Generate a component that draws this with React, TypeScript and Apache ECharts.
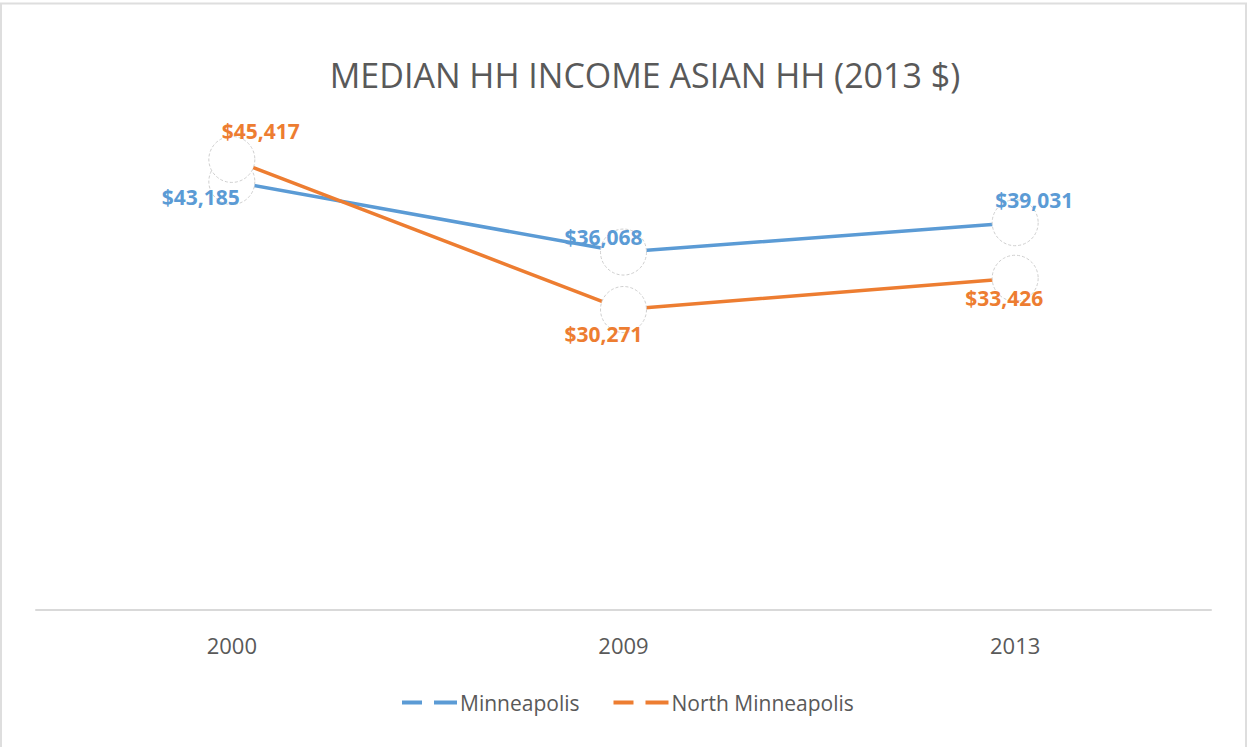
import React, { useEffect, useRef } from "react";
import * as echarts from "echarts";

const TITLE = "MEDIAN HH INCOME ASIAN HH (2013 $)";
const years = ["2000", "2009", "2013"];
const minneapolis = [43185, 36068, 39031];
const northMinneapolis = [45417, 30271, 33426];
const seriesNames = ["Minneapolis", "North Minneapolis"];
const blueOffsets = [[-31, 15], [-20, -15], [19, -23]];
const orangeOffsets = [[29, -28], [-20, 24], [-11, 20]];

const BLUE = "#5B9BD5";
const ORANGE = "#ED7D31";
const FONT = "'Open Sans', 'Liberation Sans', sans-serif";

const fmt = (v: number) => "$" + v.toLocaleString("en-US");

function buildSeries(name: string, values: number[], offsets: number[][], color: string) {
  return {
    name,
    type: "line",
    data: values.map((v, i) => ({
      value: v,
      label: { offset: offsets[i] },
    })),
    lineStyle: { color, width: 3.5 },
    itemStyle: { color: "#ffffff", borderColor: "#cfcfcf", borderWidth: 1, borderType: [3, 2] },
    symbol: "circle",
    symbolSize: 46,
    showSymbol: true,
    label: {
      show: true,
      position: "inside",
      color,
      fontFamily: FONT,
      fontWeight: "bold",
      fontSize: 21,
      formatter: (p: any) => fmt(p.value),
    },
    emphasis: { disabled: true },
  };
}

export default function App() {
  const ref = useRef<HTMLDivElement>(null);
  useEffect(() => {
    const chart = echarts.init(ref.current!, null, { renderer: "svg" });
    const legendIcon = "path://M0,0 h20 v4 h-20 z M32,0 h23 v4 h-23 z";
    chart.setOption({
      animation: false,
      backgroundColor: "#ffffff",
      textStyle: { fontFamily: FONT },
      graphic: [
        {
          type: "rect",
          shape: { x: 1, y: 3.5, width: 1245, height: 800 },
          style: { fill: "none", stroke: "#dedede", lineWidth: 2 },
          silent: true,
        },
        {
          type: "text",
          x: 645,
          y: 75,
          style: {
            text: TITLE,
            fill: "#595959",
            font: `34px ${FONT}`,
            textAlign: "center",
            textVerticalAlign: "middle",
          },
          silent: true,
        },
      ],
      grid: { left: 36, right: 36, top: 114, bottom: 137.5 },
      legend: {
        left: 402,
        top: 692,
        padding: 0,
        itemWidth: 55,
        itemHeight: 4,
        itemGap: 34,
        textStyle: { fontFamily: FONT, fontSize: 21, color: "#595959", padding: [0, 0, 0, -2] },
        data: [
          { name: seriesNames[0], icon: legendIcon, itemStyle: { color: BLUE, borderWidth: 0 } },
          { name: seriesNames[1], icon: legendIcon, itemStyle: { color: ORANGE, borderWidth: 0 } },
        ],
      },
      xAxis: {
        type: "category",
        data: years,
        boundaryGap: true,
        axisLine: { show: true, lineStyle: { color: "#d9d9d9", width: 2 } },
        axisTick: { show: false },
        axisLabel: { color: "#595959", fontSize: 22, fontFamily: FONT, margin: 24 },
        splitLine: { show: false },
      },
      yAxis: {
        type: "value",
        min: 0,
        max: 50000,
        show: false,
        splitLine: { show: false },
      },
      series: [
        buildSeries(seriesNames[0], minneapolis, blueOffsets, BLUE),
        buildSeries(seriesNames[1], northMinneapolis, orangeOffsets, ORANGE),
      ],
    });
    return () => chart.dispose();
  }, []);
  return (
    <div
      ref={ref}
      style={{ position: "fixed", left: 0, top: 0, width: 1247, height: 747 }}
    />
  );
}
